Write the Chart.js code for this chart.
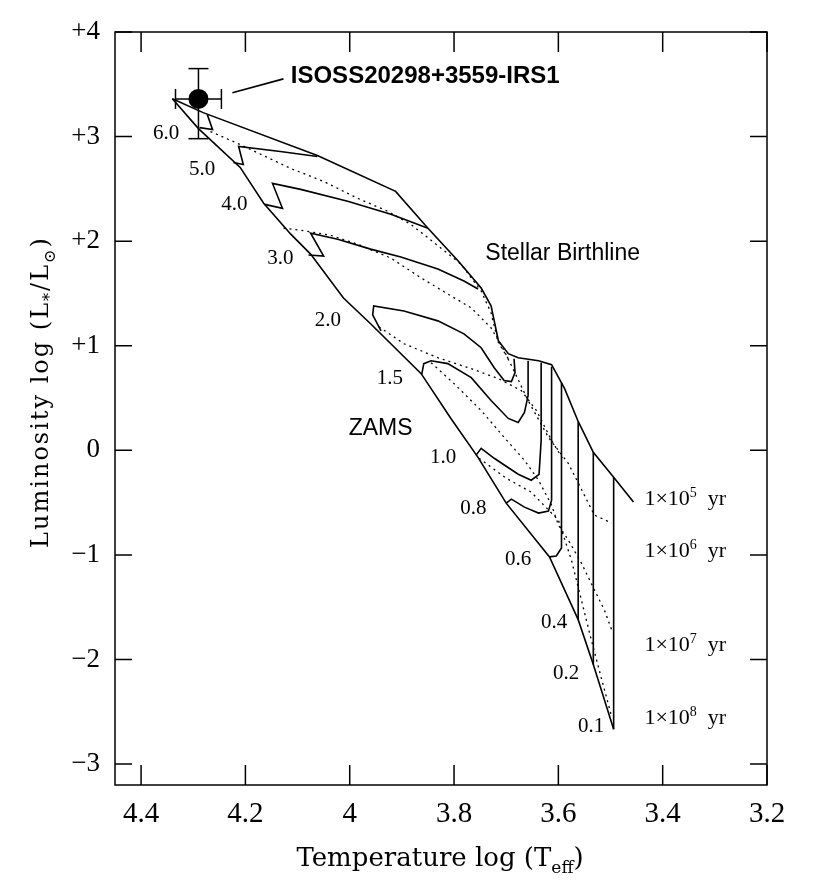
<!DOCTYPE html>
<html>
<head>
<meta charset="utf-8">
<script src="https://cdn.jsdelivr.net/npm/chart.js@4.4.1/dist/chart.umd.min.js"></script>
<style>
  html, body { margin: 0; padding: 0; background: #fff; }
  #wrap { width: 830px; height: 882px; }
</style>
</head>
<body>
<div id="wrap"><canvas id="hrd" width="830" height="882"></canvas></div>
<script>
// axes
const tempTicks = [4.4, 4.2, 4.0, 3.8, 3.6, 3.4, 3.2];
const tempTickLabels = ["4.4", "4.2", "4", "3.8", "3.6", "3.4", "3.2"];
const lumTicks = [4, 3, 2, 1, 0, -1, -2, -3];
const lumTickLabels = ["+4", "+3", "+2", "+1", "0", "\u22121", "\u22122", "\u22123"];

// zero age main sequence
const zamsT = [4.340, 4.290, 4.210, 4.165, 4.113, 4.075, 4.012, 3.960, 3.863, 3.806, 3.754, 3.700, 3.617, 3.562, 3.533, 3.494];
const zamsL = [3.362, 3.076, 2.705, 2.362, 2.067, 1.876, 1.457, 1.210, 0.733, 0.305, -0.067, -0.505, -1.019, -1.619, -2.048, -2.667];

// stellar birthline
const birthT = [4.340, 4.281, 4.062, 3.912, 3.850, 3.792, 3.748, 3.729, 3.715, 3.696, 3.677, 3.638, 3.613, 3.588, 3.562, 3.533, 3.494, 3.456];
const birthL = [3.362, 3.229, 2.819, 2.476, 2.124, 1.810, 1.552, 1.381, 1.048, 0.924, 0.886, 0.857, 0.819, 0.590, 0.276, -0.019, -0.257, -0.495];

// pre-main-sequence tracks (solar masses)
const trackMasses = ["6.0", "5.0", "4.0", "3.0", "2.0", "1.5", "1.0", "0.8", "0.6", "0.4", "0.2", "0.1"];
const trackT = [
  [4.273, 4.263, 4.288],
  [4.062, 4.133, 4.213, 4.204, 4.223],
  [3.850, 3.921, 4.004, 4.094, 4.148, 4.129, 4.163],
  [3.754, 3.781, 3.831, 3.902, 3.960, 4.023, 4.075, 4.050, 4.079],
  [3.685, 3.683, 3.690, 3.704, 3.723, 3.748, 3.781, 3.831, 3.896, 3.954, 3.956, 3.940],
  [3.658, 3.658, 3.665, 3.677, 3.696, 3.729, 3.767, 3.812, 3.844, 3.858, 3.862],
  [3.633, 3.633, 3.637, 3.652, 3.677, 3.723, 3.748, 3.758],
  [3.613, 3.613, 3.619, 3.638, 3.665, 3.690, 3.700],
  [3.594, 3.594, 3.604, 3.617],
  [3.562, 3.562],
  [3.533, 3.533],
  [3.494, 3.494]
];
const trackL = [
  [3.210, 3.067, 3.086],
  [2.810, 2.857, 2.905, 2.733, 2.752],
  [2.124, 2.257, 2.381, 2.495, 2.552, 2.314, 2.352],
  [1.543, 1.619, 1.733, 1.848, 1.924, 2.019, 2.076, 1.857, 1.867],
  [0.876, 0.743, 0.657, 0.667, 0.790, 0.981, 1.114, 1.238, 1.333, 1.381, 1.295, 1.143],
  [0.857, 0.524, 0.362, 0.267, 0.305, 0.476, 0.695, 0.829, 0.857, 0.829, 0.724],
  [0.838, 0.095, -0.229, -0.286, -0.229, -0.076, 0.019, -0.048],
  [0.800, -0.476, -0.581, -0.600, -0.543, -0.467, -0.505],
  [0.648, -0.933, -1.010, -1.019],
  [0.276, -1.619],
  [-0.019, -2.048],
  [-0.257, -2.667]
];

// isochrones (dotted)
const isoT = [
  [4.267, 4.210, 4.113, 4.050, 3.985, 3.927, 3.883, 3.825, 3.787, 3.748, 3.729, 3.715, 3.696],
  [4.127, 4.094, 4.037, 3.985, 3.921, 3.863, 3.812, 3.767, 3.729, 3.706, 3.687, 3.658, 3.619, 3.581, 3.552, 3.531, 3.498],
  [3.944, 3.896, 3.831, 3.767, 3.715, 3.671, 3.642, 3.613, 3.590],
  [3.844, 3.800, 3.748, 3.704, 3.665, 3.638, 3.613, 3.600, 3.581, 3.556, 3.531, 3.512, 3.498],
  [3.752, 3.700, 3.652, 3.600, 3.575, 3.556, 3.537, 3.517, 3.498]
];
const isoL = [
  [3.048, 2.924, 2.695, 2.571, 2.410, 2.286, 2.162, 1.933, 1.781, 1.524, 1.314, 1.029, 0.876],
  [2.124, 2.105, 2.057, 1.971, 1.838, 1.648, 1.495, 1.362, 1.171, 0.971, 0.781, 0.476, 0.124, -0.124, -0.410, -0.619, -0.695],
  [1.181, 1.019, 0.886, 0.781, 0.686, 0.571, 0.381, 0.095, -0.095],
  [0.838, 0.638, 0.381, 0.124, -0.095, -0.286, -0.524, -0.714, -0.857, -1.076, -1.333, -1.524, -1.714],
  [-0.076, -0.267, -0.400, -0.667, -1.048, -1.429, -1.810, -2.190, -2.543]
];
const isoAges = ["5", "6", "7", "8"];

// the source
const srcT = 4.29, srcL = 3.36;
const srcErrT = 0.044, srcErrLUp = 0.29, srcErrLDown = 0.38;
const pointerT = [4.225, 4.127];
const pointerL = [3.419, 3.552];

// where the texts sit (data coordinates)
const massLabelAt = [[4.352, 3.029], [4.283, 2.686], [4.221, 2.352], [4.133, 1.838], [4.042, 1.238], [3.923, 0.686],
  [3.821, -0.067], [3.763, -0.552], [3.677, -1.048], [3.608, -1.648], [3.585, -2.133], [3.537, -2.638]];
const ageLabelT = 3.435;
const ageLabelL = [-0.457, -0.952, -1.848, -2.552];

const pts = (xs, ys) => xs.map((x, i) => ({ x: x, y: ys[i] }));

function lineSet(xs, ys, dotted) {
  return {
    data: pts(xs, ys),
    showLine: true,
    borderColor: "#000",
    borderWidth: dotted ? 1.3 : 1.6,
    borderDash: dotted ? [2, 4] : [],
    pointRadius: 0,
    fill: false,
    tension: 0
  };
}

const datasets = [];
datasets.push(lineSet(zamsT, zamsL, false));
datasets.push(lineSet(birthT, birthL, false));
trackT.forEach((t, i) => datasets.push(lineSet(t, trackL[i], false)));
isoT.forEach((t, i) => datasets.push(lineSet(t, isoL[i], true)));
datasets.push(lineSet(pointerT, pointerL, false));

// error bars
datasets.push({
  data: [{ x: srcT - srcErrT, y: srcL }, { x: srcT + srcErrT, y: srcL }],
  showLine: true, borderColor: "#000", borderWidth: 1.5,
  pointStyle: "line", pointRotation: 90, pointRadius: 10, pointBorderWidth: 1.5, pointBorderColor: "#000"
});
datasets.push({
  data: [{ x: srcT, y: srcL + srcErrLUp }, { x: srcT, y: srcL - srcErrLDown }],
  showLine: true, borderColor: "#000", borderWidth: 1.5,
  pointStyle: "line", pointRotation: 0, pointRadius: 10, pointBorderWidth: 1.5, pointBorderColor: "#000"
});
datasets.push({
  data: [{ x: srcT, y: srcL }],
  pointRadius: 10, pointBackgroundColor: "#000", pointBorderColor: "#000", pointBorderWidth: 0
});

// draws text pieces with sub/superscripts
function drawRich(ctx, parts, x, y, size, family, align) {
  const small = Math.round(size * 0.65);
  let total = 0;
  const widths = parts.map(p => {
    ctx.font = ((p.sub || p.sup) ? small : size) + "px " + family;
    const w = ctx.measureText(p.text).width;
    total += w;
    return w;
  });
  let cx = align === "center" ? x - total / 2 : x;
  parts.forEach((p, i) => {
    ctx.font = ((p.sub || p.sup) ? small : size) + "px " + family;
    const dy = p.sub ? size * 0.28 : (p.sup ? -size * 0.36 : 0);
    ctx.fillText(p.text, cx, y + dy);
    cx += widths[i];
  });
}

// box with inward ticks on all four sides
const framePlugin = {
  id: "frame",
  afterDraw(chart) {
    const { ctx, chartArea: a, scales } = chart;
    ctx.save();
    ctx.strokeStyle = "#000";
    ctx.lineWidth = 1.5;
    ctx.strokeRect(a.left, a.top, a.right - a.left, a.bottom - a.top);
    ctx.beginPath();
    lumTicks.forEach(v => {
      const y = scales.y.getPixelForValue(v);
      ctx.moveTo(a.left, y); ctx.lineTo(a.left + 17, y);
      ctx.moveTo(a.right, y); ctx.lineTo(a.right - 17, y);
    });
    tempTicks.forEach(v => {
      const x = scales.x.getPixelForValue(v);
      ctx.moveTo(x, a.bottom); ctx.lineTo(x, a.bottom - 20);
      ctx.moveTo(x, a.top); ctx.lineTo(x, a.top + 20);
    });
    ctx.stroke();
    ctx.restore();
  }
};

const textPlugin = {
  id: "texts",
  afterDraw(chart) {
    const { ctx, scales } = chart;
    const X = v => scales.x.getPixelForValue(v);
    const Y = v => scales.y.getPixelForValue(v);
    ctx.save();
    ctx.fillStyle = "#000";

    ctx.textBaseline = "middle";
    ctx.textAlign = "left";
    ctx.font = "bold 24px 'Liberation Sans', Arial, sans-serif";
    ctx.fillText("ISOSS20298+3559-IRS1", X(4.113), Y(3.571));
    ctx.font = "23px 'Liberation Sans', Arial, sans-serif";
    ctx.fillText("Stellar Birthline", X(3.740), Y(1.876));
    ctx.fillText("ZAMS", X(4.002), Y(0.210));

    ctx.textAlign = "center";
    ctx.font = "21px 'Liberation Serif', serif";
    trackMasses.forEach((m, i) => ctx.fillText(m, X(massLabelAt[i][0]), Y(massLabelAt[i][1])));

    ctx.textAlign = "left";
    ctx.textBaseline = "alphabetic";
    isoAges.forEach((e, i) => {
      drawRich(ctx, [{ text: "1\u00d710" }, { text: e, sup: true }, { text: "  yr" }],
        X(ageLabelT), Y(ageLabelL[i]) + 7, 22, "'Liberation Serif', serif", "left");
    });

    // x axis title
    drawRich(ctx, [{ text: "Temperature log (T" }, { text: "eff", sub: true }, { text: ")" }],
      440, 866, 26, "'DejaVu Serif', serif", "center");

    // y axis title
    ctx.translate(48, 392);
    ctx.rotate(-Math.PI / 2);
    ctx.letterSpacing = "2px";
    drawRich(ctx, [{ text: "Luminosity log (L" }, { text: "*", sub: true }, { text: "/L" }, { text: "\u2299", sub: true }, { text: ")" }],
      0, 0, 24, "'DejaVu Serif', serif", "center");
    ctx.restore();
  }
};

new Chart(document.getElementById("hrd").getContext("2d"), {
  type: "scatter",
  data: { datasets: datasets },
  options: {
    responsive: false,
    animation: false,
    devicePixelRatio: 1,
    layout: { padding: { top: 32, right: 63, bottom: 0, left: 0 } },
    plugins: { legend: { display: false }, tooltip: { enabled: false } },
    scales: {
      x: {
        type: "linear",
        reverse: true,
        min: 3.2,
        max: 4.45,
        afterBuildTicks: s => { s.ticks = tempTicks.map(v => ({ value: v })); },
        afterFit: s => { s.height = 97; },
        grid: { display: false, drawTicks: false },
        border: { display: false },
        ticks: {
          autoSkip: false, maxRotation: 0, padding: 12, color: "#000",
          font: { family: "'Liberation Serif', serif", size: 29 },
          callback: (v, i) => tempTickLabels[i]
        }
      },
      y: {
        type: "linear",
        min: -3.2,
        max: 4,
        afterBuildTicks: s => { s.ticks = lumTicks.map(v => ({ value: v })); },
        afterFit: s => { s.width = 115; },
        grid: { display: false, drawTicks: false },
        border: { display: false },
        ticks: {
          autoSkip: false, padding: 15, color: "#000",
          font: { family: "'Liberation Serif', serif", size: 27 },
          callback: (v, i) => lumTickLabels[i]
        }
      }
    }
  },
  plugins: [framePlugin, textPlugin]
});
</script>
</body>
</html>
